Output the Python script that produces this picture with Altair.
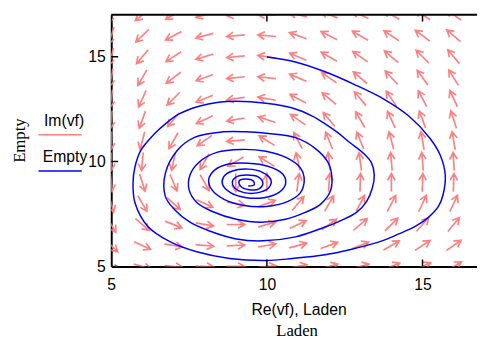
import altair as alt
import pandas as pd

# ---------------- data ----------------
x_grid = [5, 6, 7, 8, 9, 10, 11, 12, 13, 14, 15, 16]
y_rows = [17, 16, 15, 14, 13, 12, 11, 10, 9, 8, 7, 6, 5]

# arrow directions (degrees, counter-clockwise from +x as seen on screen), one list per row
dir_y17 = [250, 220, 210, 197, 186, 179, 166, 160, 155, 150, 147, 145]
dir_y16 = [252, 224, 208, 195, 185, 175, 160, 153, 150, 146, 143, 140]
dir_y15 = [255, 230, 213, 197, 185, 172, 157, 150, 145, 140, 135, 130]
dir_y14 = [260, 240, 217, 200, 186, 174, 157, 145, 140, 133, 126, 122]
dir_y13 = [262, 245, 225, 202, 188, 170, 152, 140, 130, 124, 118, 115]
dir_y12 = [265, 250, 230, 205, 190, 162, 145, 130, 120, 115, 110, 108]
dir_y11 = [268, 255, 240, 215, 185, 148, 118, 112, 112, 105, 100, 100]
dir_y10 = [270, 265, 258, 240, 210, 148, 102, 96, 98, 95, 95, 94]
dir_y9 = [275, 288, 293, 300, 270, 90, 82, 86, 88, 90, 88, 88]
dir_y8 = [285, 300, 318, 335, 350, 20, 50, 60, 62, 62, 65, 65]
dir_y7 = [300, 320, 338, 350, 0, 15, 25, 35, 40, 45, 48, 50]
dir_y6 = [315, 335, 350, 355, 3, 10, 15, 20, 22, 30, 33, 35]
dir_y5 = [330, 345, 355, 358, 0, 5, 10, 15, 15, 22, 25, 30]
dir_rows = [dir_y17, dir_y16, dir_y15, dir_y14, dir_y13, dir_y12, dir_y11,
            dir_y10, dir_y9, dir_y8, dir_y7, dir_y6, dir_y5]

# trajectory (Laden, Empty)
laden = [10.00, 10.92, 11.87, 12.82, 13.77, 14.56, 15.25, 15.57, 15.73, 15.66,
         15.51, 15.19, 14.78, 14.24, 13.70, 12.66, 11.87, 10.82, 9.97, 8.80,
         7.75, 6.90, 6.17, 5.76, 5.70, 5.76, 5.95, 6.39, 6.74, 7.18,
         7.82, 8.45, 9.02, 9.97, 10.82, 11.46, 11.87, 12.28, 12.66, 13.07,
         13.35, 13.45, 13.39, 13.20, 12.88, 12.34, 11.87, 10.92, 9.87, 9.02,
         8.16, 7.53, 7.03, 6.74, 6.74, 7.12, 7.66, 8.61, 9.34, 10.13,
         10.92, 11.55, 11.96, 12.09, 12.03, 11.71, 11.23, 10.60, 9.81, 9.02,
         8.23, 7.75, 7.50, 7.53, 7.82, 8.39, 9.18, 9.97, 10.66, 11.08,
         11.20, 11.08, 10.66, 9.97, 9.27, 8.64, 8.23, 8.13, 8.32, 8.77,
         9.40, 10.03, 10.51, 10.60, 10.38, 9.91, 9.34, 8.83, 8.58, 8.61,
         8.89, 9.40, 9.84, 10.13, 10.06, 9.72, 9.27, 8.96, 8.89, 9.02,
         9.34, 9.72, 9.87, 9.75, 9.43, 9.15, 9.11, 9.30, 9.56, 9.59, 9.40]
empty = [14.99, 14.75, 14.28, 13.67, 12.97, 12.17, 11.09, 10.30, 9.36, 8.42,
         7.86, 7.34, 6.92, 6.55, 6.22, 5.80, 5.56, 5.38, 5.28, 5.38,
         5.70, 6.17, 6.92, 8.05, 8.98, 9.73, 10.53, 11.33, 11.80, 12.27,
         12.64, 12.83, 12.88, 12.78, 12.55, 12.17, 11.80, 11.38, 10.91, 10.44,
         9.97, 9.36, 8.75, 8.09, 7.58, 7.16, 6.88, 6.41, 6.22, 6.31,
         6.69, 7.11, 7.72, 8.33, 9.45, 10.53, 11.14, 11.42, 11.42, 11.33,
         11.14, 10.63, 9.97, 9.22, 8.56, 7.95, 7.58, 7.25, 7.11, 7.25,
         7.63, 8.05, 8.66, 9.36, 9.97, 10.44, 10.58, 10.49, 10.16, 9.69,
         9.13, 8.52, 8.09, 7.86, 7.91, 8.19, 8.66, 9.13, 9.59, 9.88,
         9.92, 9.78, 9.41, 8.94, 8.52, 8.28, 8.28, 8.52, 8.89, 9.27,
         9.55, 9.64, 9.50, 9.13, 8.75, 8.52, 8.52, 8.75, 9.03, 9.27,
         9.36, 9.27, 8.98, 8.70, 8.66, 8.84, 9.08, 9.17, 9.08, 8.89, 8.84]

x_ticks = [5, 10, 15]
y_ticks = [5, 10, 15]

# ---------------- tables ----------------
arrow_records = []
for yv, row in zip(y_rows, dir_rows):
    for xv, a in zip(x_grid, row):
        arrow_records.append({"x": xv, "y": yv, "rot": (360 - a) % 360})
df_arrows = pd.DataFrame(arrow_records)
df_traj = pd.DataFrame({"i": list(range(len(laden))), "laden": laden, "empty": empty})
df_xt = pd.DataFrame([{"x": v, "y": yy} for v in x_ticks for yy in (5, 17)])
df_yt = pd.DataFrame([{"x": 5, "y": v} for v in y_ticks])

PINK = "#FF8080"
BLUE = "#0000FF"
ARROW = "M-1,0L1,0M0.25,-0.42L1,0L0.25,0.42"

xs = alt.Scale(domain=[5, 16.75], nice=False, zero=False)
ys = alt.Scale(domain=[5, 17], nice=False, zero=False)
xaxis = alt.Axis(values=x_ticks, ticks=False, grid=False, domainColor="black",
                 domainWidth=2, labelFont="Liberation Sans", labelFontSize=16,
                 labelColor="black", labelPadding=10, labelFlush=False, title=None)
yaxis = alt.Axis(values=y_ticks, ticks=False, grid=False, domainColor="black",
                 domainWidth=2, labelFont="Liberation Sans", labelFontSize=16,
                 labelColor="black", labelPadding=6, labelFlush=False, title=None)

arrows = alt.Chart(df_arrows).mark_point(
    shape=ARROW, filled=False, size=340, strokeWidth=1.7, color=PINK,
    opacity=1, clip=True
).encode(
    x=alt.X("x:Q", scale=xs, axis=xaxis),
    y=alt.Y("y:Q", scale=ys, axis=yaxis),
    angle=alt.Angle("rot:Q", scale=None),
)

traj = alt.Chart(df_traj).mark_line(
    color=BLUE, strokeWidth=1.5, clip=True, interpolate="catmull-rom"
).encode(x="laden:Q", y="empty:Q", order="i:Q")

xticks = alt.Chart(df_xt).mark_tick(
    orient="vertical", size=14, thickness=1.5, color="black", opacity=1, clip=True
).encode(x="x:Q", y="y:Q")
yticks = alt.Chart(df_yt).mark_tick(
    orient="horizontal", size=14, thickness=1.5, color="black", opacity=1, clip=True
).encode(x="x:Q", y="y:Q")

top_line = alt.Chart(pd.DataFrame({"y": [17]})).mark_rule(
    color="black", strokeWidth=2
).encode(y="y:Q")


def label(txt, x, y, font, size, angle=0):
    return alt.Chart(pd.DataFrame({"t": [txt]})).mark_text(
        font=font, fontSize=size, color="black", align="center",
        baseline="middle", angle=angle
    ).encode(x=alt.value(x), y=alt.value(y), text="t:N")


def legline(x1, x2, y, color):
    return alt.Chart(pd.DataFrame({"k": [0]})).mark_rule(
        color=color, strokeWidth=1.5
    ).encode(x=alt.value(x1), x2=alt.value(x2), y=alt.value(y))


texts = [
    label("Re(vf), Laden", 191, 300, "Liberation Sans", 16),
    label("Laden", 189, 322, "Liberation Serif", 17),
    label("Empty", -93, 128, "Liberation Serif", 17, 270),
    label("Im(vf)", -48, 108, "Liberation Sans", 16),
    label("Empty", -47, 145, "Liberation Sans", 16),
    legline(-74, -30, 122, PINK),
    legline(-74, -30, 159, BLUE),
]

chart = alt.layer(arrows, traj, xticks, yticks, top_line, *texts).properties(
    width=372, height=256,
    autosize=alt.AutoSizeParams(type="none"),
    padding={"left": 105, "top": 4, "right": 0, "bottom": 75},
).configure_view(stroke=None)

chart.save("out.html", embed_options={"renderer": "svg", "actions": False})
